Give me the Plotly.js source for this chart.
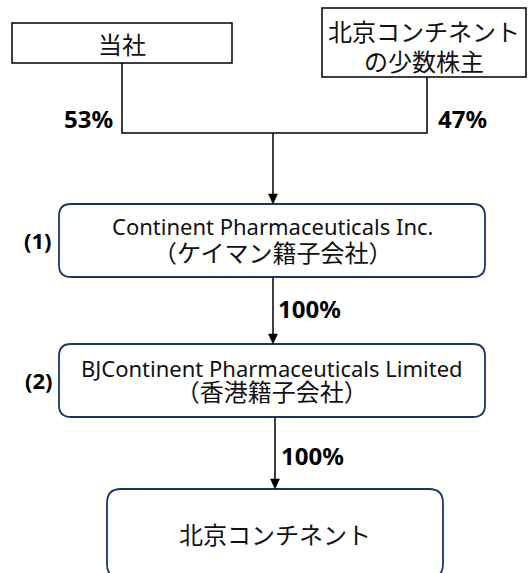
<!DOCTYPE html>
<html>
<head>
<meta charset="utf-8">
<script src="https://cdn.plot.ly/plotly-3.0.1.min.js"></script>
<style>html,body{margin:0;padding:0;background:#fff;}#chart{width:528px;height:573px;}</style>
</head>
<body>
<div id="chart"></div>
<script>
// ---- data ----
const entityLatin = ["", "", "Continent Pharmaceuticals Inc.", "BJContinent Pharmaceuticals Limited", ""];
const entityJapanese = [["当社"], ["北京コンチネント", "の少数株主"], ["（ケイマン籍子会社）"], ["（香港籍子会社）"], ["北京コンチネント"]];
const entityTags = ["", "", "(1)", "(2)", ""];
const stakeHolders = ["当社", "北京コンチネントの少数株主", "Continent Pharmaceuticals Inc.", "BJContinent Pharmaceuticals Limited"];
const stakePercent = [53, 47, 100, 100];

// ---- layout geometry (pixels, y down) ----
const boxes = [
  {x0: 12, y0: 23, x1: 232, y1: 63, r: 0, color: "#000000", w: 1.5},
  {x0: 322, y0: 8, x1: 526, y1: 77, r: 0, color: "#000000", w: 1.5},
  {x0: 59, y0: 204, x1: 485, y1: 277, r: 12, color: "#1c3568", w: 1.8},
  {x0: 59, y0: 344, x1: 485, y1: 417, r: 12, color: "#1c3568", w: 1.8},
  {x0: 107, y0: 489, x1: 443, y1: 578, r: 14, color: "#1c3568", w: 1.8}
];
// base = annotation font size (sets line spacing 1.3*base)
const textPos = [
  {x: 122, y: 43, base: 24},
  {x: 424, y: 45, base: 23},
  {x: 272, y: 240, base: 20.5},
  {x: 272, y: 380, base: 18.5},
  {x: 275, y: 533, base: 24}
];
const latinSize = 22, jpSize = 24;
const tagPos = [null, null, {x: 38, y: 240}, {x: 39, y: 380}, null];
const stakePos = [
  {x: 88, y: 118, anchor: "center"},
  {x: 462, y: 118, anchor: "center"},
  {x: 276, y: 308, anchor: "left"},
  {x: 279, y: 455, anchor: "left"}
];
const arrows = [
  {x: 273, y0: 133, y1: 204},
  {x: 273, y0: 277, y1: 344},
  {x: 275, y0: 417, y1: 489}
];

function rrPath(b) {
  const r = b.r;
  if (!r) return `M ${b.x0},${b.y0} L ${b.x1},${b.y0} L ${b.x1},${b.y1} L ${b.x0},${b.y1} Z`;
  return `M ${b.x0 + r},${b.y0} L ${b.x1 - r},${b.y0} Q ${b.x1},${b.y0} ${b.x1},${b.y0 + r} ` +
         `L ${b.x1},${b.y1 - r} Q ${b.x1},${b.y1} ${b.x1 - r},${b.y1} L ${b.x0 + r},${b.y1} ` +
         `Q ${b.x0},${b.y1} ${b.x0},${b.y1 - r} L ${b.x0},${b.y0 + r} Q ${b.x0},${b.y0} ${b.x0 + r},${b.y0} Z`;
}

const shapes = [];
boxes.forEach(b => shapes.push({
  type: "path", xref: "x", yref: "y", path: rrPath(b),
  line: {color: b.color, width: b.w}, fillcolor: "rgba(0,0,0,0)"
}));
const a = boxes[0], c = boxes[1];
const joinY = 133, leftX = 122, rightX = 427;
shapes.push({
  type: "path", xref: "x", yref: "y",
  path: `M ${leftX},${a.y1} L ${leftX},${joinY} L ${rightX},${joinY} L ${rightX},${c.y1}`,
  line: {color: "#000", width: 1.5}, fillcolor: "rgba(0,0,0,0)"
});
arrows.forEach(ar => {
  const head = 10, half = 4.5;
  shapes.push({type: "line", xref: "x", yref: "y", x0: ar.x, x1: ar.x, y0: ar.y0, y1: ar.y1 - head + 1,
    line: {color: "#000", width: 1.5}});
  shapes.push({type: "path", xref: "x", yref: "y",
    path: `M ${ar.x - half},${ar.y1 - head} L ${ar.x + half},${ar.y1 - head} L ${ar.x},${ar.y1} Z`,
    fillcolor: "#000", line: {color: "#000", width: 0.5}});
});

const annotations = [];
const latinFont = "Noto Sans, Noto Sans CJK JP, sans-serif";
const jpFont = "Noto Sans CJK JP, Noto Sans, sans-serif";
entityLatin.forEach((t, i) => {
  const p = textPos[i];
  const lines = [];
  if (t) lines.push(`<span style="font-size:${latinSize}px;font-family:'Noto Sans'">${t}</span>`);
  entityJapanese[i].forEach(line => {
    lines.push(`<span style="font-size:${jpSize}px">${line}</span>`);
  });
  annotations.push({x: p.x, y: p.y, xref: "x", yref: "y", text: lines.join("<br>"), showarrow: false,
    xanchor: "center", yanchor: "middle", align: "center",
    font: {family: jpFont, size: p.base, color: "#111"}});
  if (entityTags[i]) {
    annotations.push({x: tagPos[i].x, y: tagPos[i].y, xref: "x", yref: "y", text: "<b>" + entityTags[i] + "</b>",
      showarrow: false, xanchor: "center", yanchor: "middle", font: {family: latinFont, size: 22, color: "#000"}});
  }
});
stakePercent.forEach((v, i) => {
  const p = stakePos[i];
  annotations.push({x: p.x, y: p.y, xref: "x", yref: "y", text: "<b>" + v + "%</b>", showarrow: false,
    xanchor: p.anchor, yanchor: "middle", font: {family: latinFont, size: 24, color: "#000"}});
});

const layout = {
  width: 528, height: 573,
  margin: {l: 0, r: 0, t: 0, b: 0},
  paper_bgcolor: "#fff", plot_bgcolor: "#fff",
  xaxis: {range: [0, 528], visible: false, fixedrange: true},
  yaxis: {range: [573, 0], visible: false, fixedrange: true},
  shapes: shapes, annotations: annotations, showlegend: false
};
Plotly.newPlot("chart", [{x: [], y: [], type: "scatter", mode: "markers", hoverinfo: "skip"}], layout,
  {staticPlot: true, displayModeBar: false});
</script>
</body>
</html>
